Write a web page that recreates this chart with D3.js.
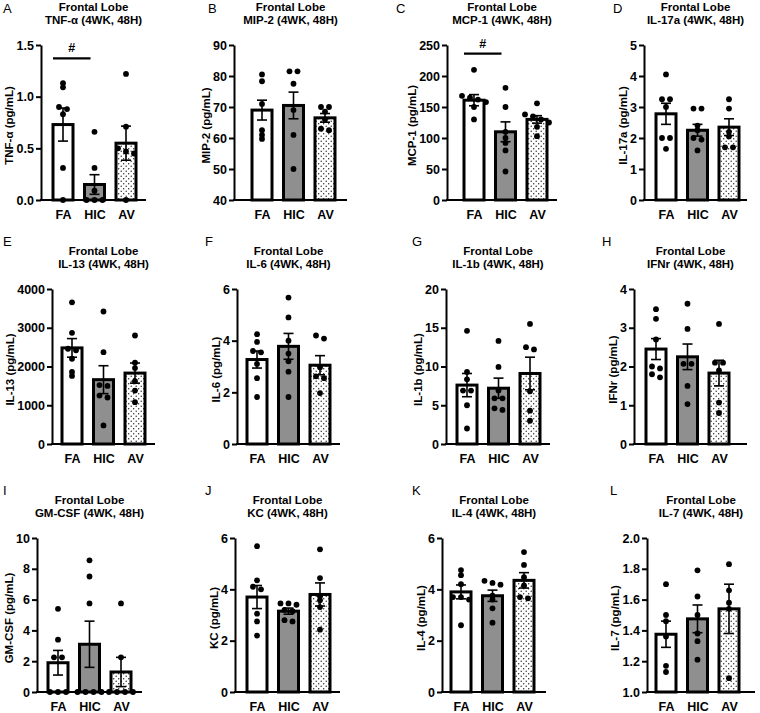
<!DOCTYPE html>
<html><head><meta charset="utf-8">
<script src="https://cdn.jsdelivr.net/npm/d3@7"></script>
<style>
body{margin:0;background:#fff}
svg{display:block}
text{font-family:Arial,"Liberation Sans",Helvetica,sans-serif}
</style>
</head><body>
<svg id="chart" width="760" height="713"></svg>
<script>
// ---------------- DATA ----------------
const groups = ["FA", "HIC", "AV"];
const panelLetters = ["A","B","C","D","E","F","G","H","I","J","K","L"];
const regionTitle = "Frontal Lobe";
const analytes = ["TNF-α","MIP-2","MCP-1","IL-17a","IL-13","IL-6","IL-1b","IFNr","GM-CSF","KC","IL-4","IL-7"];
const timeLabel = "(4WK, 48H)";
const unitLabel = "(pg/mL)";

const yDomains = [[0,1.5],[40,90],[0,250],[0,5],[0,4000],[0,6],[0,20],[0,4],[0,10],[0,6],[0,6],[1,2]];
const yTickValues = [
  [0,0.5,1,1.5],[40,50,60,70,80,90],[0,50,100,150,200,250],[0,1,2,3,4,5],
  [0,1000,2000,3000,4000],[0,2,4,6],[0,5,10,15,20],[0,1,2,3,4],
  [0,2,4,6,8,10],[0,2,4,6],[0,2,4,6],[1,1.2,1.4,1.6,1.8,2]
];
const yTickFormats = [".1f","d","d","d","d","d","d","d","d","d","d",".1f"];

// bar means (FA, HIC, AV) per panel
const meanFA  = [0.73, 69,   161, 2.78, 2480, 3.27, 7.6, 2.45, 1.9, 3.7,  3.9,  1.375];
const meanHIC = [0.15, 70.5, 110, 2.25, 1660, 3.78, 7.2, 2.25, 3.1, 3.15, 3.75, 1.475];
const meanAV  = [0.55, 66.5, 130, 2.35, 1830, 3.05, 9.1, 1.83, 1.3, 3.8,  4.35, 1.54];
// SEM per panel
const semFA  = [0.16, 3.2, 9,  0.34, 240, 0.33, 1.5, 0.27, 0.8, 0.45, 0.27, 0.085];
const semHIC = [0.095,4.3, 16, 0.19, 360, 0.5,  1.3, 0.33, 1.5, 0.12, 0.22, 0.09];
const semAV  = [0.165,1.4, 6,  0.27, 260, 0.37, 2.1, 0.33, 0.95,0.45, 0.3,  0.16];

// individual animals
const pointsFA = [
  [1.13,1.09,0.9,0.88,0.83,0.31,0],
  [80.5,78.3,71,62.5,61,59.7],
  [210,168,165,162,158,150,130],
  [4.05,3.25,3.25,3.0,2.0,2.0,1.65],
  [3657,2870,2458,2420,2200,1858,1756],
  [4.25,3.95,3.6,3.55,3.1,2.55,1.82],
  [14.6,9.3,8.35,6.9,6.9,5.0,2.0],
  [3.48,3.23,2.7,2.0,1.95,1.8,1.72],
  [5.4,3.4,2.25,2.25,0,0,0],
  [5.68,4.35,4.1,4.0,3.05,2.75,2.2],
  [4.75,4.55,4.2,3.7,3.7,3.6,2.6],
  [1.7,1.5,1.46,1.36,1.17,1.13]
];
const pointsHIC = [
  [0.66,0.31,0.09,0,0,0],
  [81.5,81.5,77.5,69,61,50],
  [181,150,110,100,92,80,46],
  [2.95,2.95,2.4,2.25,2.0,1.95,1.6],
  [3420,2370,1520,1500,1250,1200,480],
  [5.67,4.9,4.0,3.5,3.2,2.8,1.82],
  [13.3,9.94,6.9,5.9,5.9,4.4,4.6],
  [3.62,2.97,2.07,2.07,1.5,1.03],
  [8.55,7.5,5.75,0,0,0,0],
  [3.45,3.45,3.4,3.2,3.15,2.8,2.75],
  [4.33,4.18,4.25,3.75,3.6,3.26,2.7],
  [1.79,1.62,1.5,1.38,1.33,1.21]
];
const pointsAV = [
  [1.22,0.71,0.5,0.47,0.45,0],
  [70,70,68.5,66,63,62.5],
  [156,138,135,130,125,118,103],
  [3.25,2.95,2.2,2.05,1.7,1.7],
  [2800,2100,1960,1620,1380,1080],
  [4.08,4.2,2.97,2.62,2.55,1.97],
  [15.5,12.5,12.2,6.8,4.3,3.0],
  [3.1,2.1,2.1,1.9,1.07,0.8],
  [5.75,2.25,0,0,0,0],
  [5.56,4.44,3.73,3.57,3.31,2.43],
  [5.45,4.95,4.47,4.15,3.7,3.65],
  [1.83,1.66,1.58,1.54,1.09]
];
// significance markers: panel index, level value
const sigPanels = [0, 2];
const sigLevels = [1.37, 236];
const sigSymbol = "#";

// ---------------- LAYOUT ----------------
const axisXs  = [41, 234, 447, 644, 52, 237, 446, 634, 37, 235, 442, 647];
const firstXs = [63, 262, 474, 666, 72, 257, 467, 656, 58, 257, 461, 666];
const axisEnds= [146,347, 557, 747, 155,340, 550, 747, 142,340, 546, 755];
const rowTops = [45, 289, 538];
const rowBases= [200, 444, 692];
const letterPos = [[3,13],[208,13],[396,13],[613,13],[3,246],[205,246],[412,246],[602,246],[3,495],[205,495],[412,495],[610,495]];
const barW = 20, step = 31.5, ptR = 2.9;

const svg = d3.select("#chart");
const defs = svg.append("defs");
const pat = defs.append("pattern").attr("id","dots").attr("patternUnits","userSpaceOnUse")
  .attr("width",5).attr("height",5);
pat.append("rect").attr("width",5).attr("height",5).attr("fill","#fff");
pat.append("circle").attr("cx",1.2).attr("cy",1.2).attr("r",0.7).attr("fill","#222");
pat.append("circle").attr("cx",3.7).attr("cy",3.7).attr("r",0.7).attr("fill","#222");
const fills = {FA:"#ffffff", HIC:"#8f8f8f", AV:"url(#dots)"};

function swarm(vals, y, cx){
  const arr = vals.map(v => ({v, py: y(v)})).sort((a,b) => a.py - b.py);
  const clusters = []; let cur = [];
  arr.forEach(d => {
    if (cur.length && d.py - cur[cur.length-1].py > 3.6) { clusters.push(cur); cur = []; }
    cur.push(d);
  });
  if (cur.length) clusters.push(cur);
  clusters.forEach(c => { const n = c.length; c.forEach((d,j) => d.px = cx + (j - (n-1)/2) * 8); });
  return arr;
}

analytes.forEach((name, i) => {
  const row = Math.floor(i/4);
  const top = rowTops[row], base = rowBases[row];
  const y = d3.scaleLinear().domain(yDomains[i]).range([base, top]);
  const x = d3.scalePoint().domain(groups).range([firstXs[i], firstXs[i] + 2*step]);
  const g = svg.append("g");

  // panel letter
  g.append("text").attr("x", letterPos[i][0]).attr("y", letterPos[i][1])
    .attr("font-size", 13).text(panelLetters[i]);

  // title
  const tcx = (axisXs[i] + axisEnds[i]) / 2;
  g.append("text").attr("x", tcx).attr("y", top - 34).attr("text-anchor","middle")
    .attr("font-size", 11.5).attr("font-weight","bold").text(regionTitle);
  g.append("text").attr("x", tcx).attr("y", top - 21).attr("text-anchor","middle")
    .attr("font-size", 11.5).attr("font-weight","bold").text(name + " " + timeLabel);

  const means = [meanFA[i], meanHIC[i], meanAV[i]];
  const sems = [semFA[i], semHIC[i], semAV[i]];
  const pts = [pointsFA[i], pointsHIC[i], pointsAV[i]];

  // bars
  groups.forEach((grp, k) => {
    g.append("rect")
      .attr("x", x(grp) - barW/2).attr("y", y(means[k]))
      .attr("width", barW).attr("height", y(yDomains[i][0]) - y(means[k]))
      .attr("fill", fills[grp]).attr("stroke", "#000").attr("stroke-width", 3);
  });
  // error bars
  groups.forEach((grp, k) => {
    const cx = x(grp), y1 = y(means[k] + sems[k]), y0 = y(means[k] - sems[k]);
    g.append("line").attr("x1",cx).attr("x2",cx).attr("y1",y1).attr("y2",y0)
      .attr("stroke","#000").attr("stroke-width",1.6);
    [y1, y0].forEach(yy => g.append("line").attr("x1",cx-5).attr("x2",cx+5).attr("y1",yy).attr("y2",yy)
      .attr("stroke","#000").attr("stroke-width",1.6));
  });
  // points
  groups.forEach((grp, k) => {
    swarm(pts[k], y, x(grp)).forEach(d => {
      g.append("circle").attr("cx", d.px).attr("cy", d.py).attr("r", ptR).attr("fill","#000");
    });
  });

  // y axis
  const ax = d3.axisLeft(y).tickValues(yTickValues[i]).tickFormat(d3.format(yTickFormats[i]))
    .tickSize(5).tickSizeOuter(0).tickPadding(2);
  const ag = g.append("g").attr("transform", `translate(${axisXs[i]},0)`).call(ax);
  ag.selectAll("path,line").attr("stroke","#000").attr("stroke-width",2);
  ag.selectAll("text").attr("font-size",12.5).attr("font-weight","bold").attr("fill","#000")
    .attr("font-family",'Arial,"Liberation Sans",sans-serif');
  // x axis line
  g.append("line").attr("x1", axisXs[i] - 1).attr("x2", axisEnds[i]).attr("y1", base).attr("y2", base)
    .attr("stroke","#000").attr("stroke-width",2);
  // x labels
  const xa = d3.axisBottom(x).tickSize(0).tickPadding(10);
  const xg = g.append("g").attr("transform", `translate(0,${base})`).call(xa);
  xg.select(".domain").remove();
  xg.selectAll("text").attr("font-size",12.5).attr("font-weight","bold").attr("fill","#000")
    .attr("font-family",'Arial,"Liberation Sans",sans-serif');

  // y label
  const bb = ag.node().getBBox();
  const lx = axisXs[i] + bb.x - 3.5;
  g.append("text").attr("transform", `translate(${lx},${(top+base)/2 + 3}) rotate(-90)`)
    .attr("text-anchor","middle").attr("font-size",11.5).attr("font-weight","bold")
    .text(name + " " + unitLabel);

  // significance
  const si = sigPanels.indexOf(i);
  if (si >= 0) {
    const sy = y(sigLevels[si]);
    const xa1 = x("FA") - barW/2, xa2 = x("HIC") - 4;
    g.append("line").attr("x1",xa1).attr("x2",xa2).attr("y1",sy).attr("y2",sy)
      .attr("stroke","#000").attr("stroke-width",2.2);
    g.append("text").attr("x",(xa1+xa2)/2).attr("y",sy-6).attr("text-anchor","middle")
      .attr("font-size",12.5).attr("font-weight","bold").text(sigSymbol);
  }
});
</script>
</body></html>
